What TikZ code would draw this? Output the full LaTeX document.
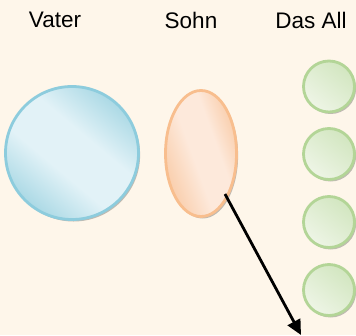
\documentclass[tikz,border=0pt]{standalone}
\usepackage{fontspec}
\setmainfont{Liberation Sans}
\usetikzlibrary{shapes.geometric,shadows,arrows.meta}
\definecolor{paper}{HTML}{FEF6EA}
\definecolor{bluerim}{HTML}{8DCCDD}
\definecolor{bluedark}{HTML}{ABD9E5}
\definecolor{bluelight}{HTML}{E2F2F7}
\definecolor{orangerim}{HTML}{F8BE8E}
\definecolor{orangedark}{HTML}{F9CCA9}
\definecolor{orangelight}{HTML}{FDE9DB}
\definecolor{greenrim}{HTML}{B3D597}
\definecolor{greendark}{HTML}{D2E6C0}
\definecolor{greenlight}{HTML}{EEF5E6}
% soft bands: dark rim, wide light middle
\pgfdeclareverticalshading{bluesoft}{100bp}{color(0bp)=(bluedark); color(25bp)=(bluedark);
  color(42bp)=(bluelight); color(58bp)=(bluelight); color(75bp)=(bluedark); color(100bp)=(bluedark)}
\pgfdeclareverticalshading{orangesoft}{100bp}{color(0bp)=(orangedark); color(25bp)=(orangedark);
  color(45bp)=(orangelight); color(60bp)=(orangelight); color(75bp)=(orangedark); color(100bp)=(orangedark)}
\tikzset{
  blob/.style={inner sep=0pt, line width=2.8pt,
    drop shadow={shadow xshift=1.6pt, shadow yshift=-2pt, opacity=0.35, fill=black!70}},
  vaterball/.style={blob, circle, minimum size=133pt, draw=bluerim,
    shading=bluesoft, shading angle=-40},
  sohnball/.style={blob, ellipse, minimum width=71pt, minimum height=126pt, draw=orangerim,
    shading=orangesoft, shading angle=-70},
  allball/.style={blob, circle, minimum size=51pt, draw=greenrim,
    shading=axis, top color=greendark, bottom color=greenlight, shading angle=-40},
  heading/.style={font=\fontsize{22.5}{24}\selectfont, text=black, inner sep=0pt},
  pointer/.style={line width=2.8pt, -{Triangle[length=15pt,width=14pt]}}
}
\begin{document}
\begin{tikzpicture}[x=1pt, y=-1pt]
  \fill[paper] (0,0) rectangle (356,335);
  \useasboundingbox (0,0) rectangle (356,335);

  % column headings
  \node[heading] (tvater) at (55,20) {Vater};
  \node[heading] (tsohn) at (191,20) {Sohn};
  \node[heading] (tall) at (311,20) {Das All};

  % the three figures
  \node[vaterball] (vater) at (72,153) {};
  \node[sohnball] (sohn) at (201,153.5) {};
  \node[allball] (all1) at (329,86.5) {};
  \node[allball] (all2) at (329,154) {};
  \node[allball] (all3) at (329,222) {};
  \node[allball] (all4) at (329,290) {};

  % arrow leaving the son
  \coordinate (from) at (225,194);
  \coordinate (to) at (301,335);
  \draw[pointer] (from) -- (to);
\end{tikzpicture}
\end{document}
